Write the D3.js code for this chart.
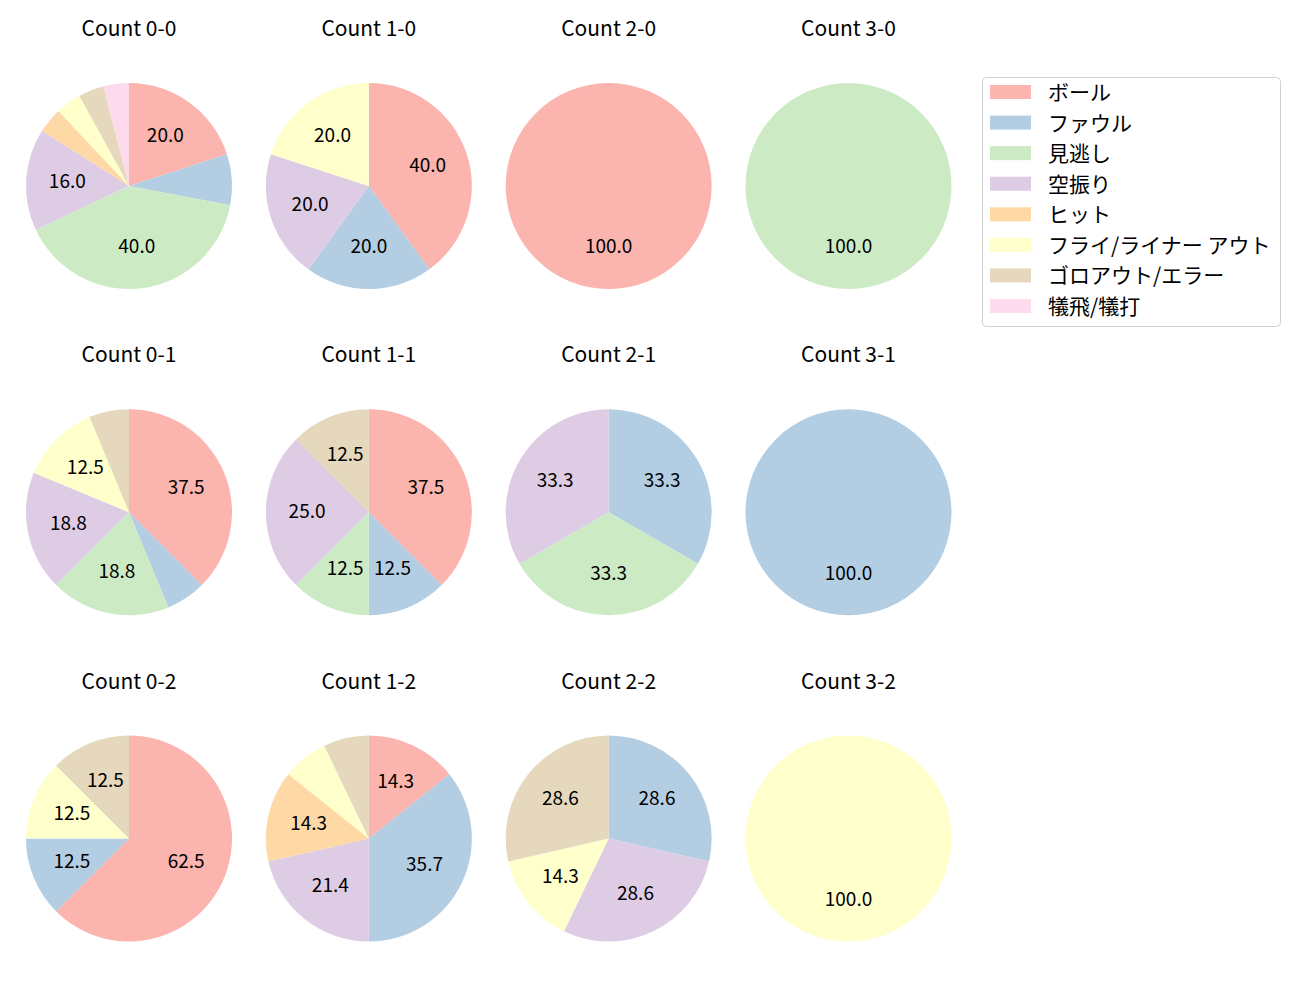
<!DOCTYPE html>
<html><head><meta charset="utf-8">
<script src="https://cdn.jsdelivr.net/npm/d3@7"></script>
<style>body{margin:0;background:#fff}svg{display:block}text{font-family:"Noto Sans CJK JP","Noto Sans",sans-serif;fill:#000}</style>
</head><body><svg id="c" width="1300" height="1000"></svg>
<script>
const categories = ["ボール","ファウル","見逃し","空振り","ヒット","フライ/ライナー アウト","ゴロアウト/エラー","犠飛/犠打"];
const colors = ["#fbb4ae","#b3cde3","#ccebc5","#decbe4","#fed9a6","#ffffcc","#e5d8bd","#fddaec"];
const titles = ["Count 0-0","Count 1-0","Count 2-0","Count 3-0","Count 0-1","Count 1-1","Count 2-1","Count 3-1","Count 0-2","Count 1-2","Count 2-2","Count 3-2"];
// pitch counts per category for each ball-strike count
const c00 = [5,2,10,4,1,1,1,1];
const c10 = [2,1,0,1,0,1,0,0];
const c20 = [1,0,0,0,0,0,0,0];
const c30 = [0,0,1,0,0,0,0,0];
const c01 = [6,1,3,3,0,2,1,0];
const c11 = [3,1,1,2,0,0,1,0];
const c21 = [0,1,1,1,0,0,0,0];
const c31 = [0,1,0,0,0,0,0,0];
const c02 = [5,1,0,0,0,1,1,0];
const c12 = [2,5,0,3,2,1,1,0];
const c22 = [0,2,0,2,0,1,2,0];
const c32 = [0,0,0,0,0,1,0,0];
const panels = [c00,c10,c20,c30,c01,c11,c21,c31,c02,c12,c22,c32];

const svg = d3.select("#c");
const colX = d3.scaleLinear().domain([0,3]).range([129,848.5]);
const rowY = d3.scaleLinear().domain([0,2]).range([186,838.5]);
const R = 103;
const pie = d3.pie().sort(null).value(d=>d.v);
const arc = d3.arc().innerRadius(0).outerRadius(R);
const labArc = d3.arc().innerRadius(R*0.6).outerRadius(R*0.6);

panels.forEach((vals,i)=>{
  const col=i%4,row=Math.floor(i/4);
  const g=svg.append("g").attr("transform",`translate(${colX(col)},${rowY(row)})`);
  const total=d3.sum(vals);
  const data=vals.map((v,k)=>({v,k}));
  const arcs=pie(data);
  g.selectAll("path").data(arcs.filter(a=>a.data.v>0)).join("path")
    .attr("d",arc).attr("fill",a=>colors[a.data.k]);
  g.selectAll("text.l").data(arcs.filter(a=>a.data.v/total*100>=10)).join("text")
    .attr("class","l")
    .attr("transform",a=>{const p=labArc.centroid(a);return `translate(${p[0]},${p[1]-3})`;})
    .attr("text-anchor","middle").attr("dominant-baseline","central")
    .style("font-size","19px")
    .text(a=>(a.data.v/total*100).toFixed(1));
  g.append("text").attr("y",-159).attr("text-anchor","middle").attr("dominant-baseline","central")
    .style("font-size","21px").text(titles[i]);
});

// legend
const lg=svg.append("g");
lg.append("rect").attr("x",982.5).attr("y",77.5).attr("width",298).attr("height",249)
  .attr("rx",4).attr("fill","#fff").attr("stroke","#d0d0d0");
const ly=d3.scaleLinear().domain([0,7]).range([92,306]);
categories.forEach((c,k)=>{
  lg.append("rect").attr("x",990).attr("y",ly(k)-7).attr("width",41).attr("height",14).attr("fill",colors[k]);
  lg.append("text").attr("x",1048).attr("y",ly(k)-1).attr("dominant-baseline","central")
    .style("font-size","21px").text(c);
});
</script></body></html>
